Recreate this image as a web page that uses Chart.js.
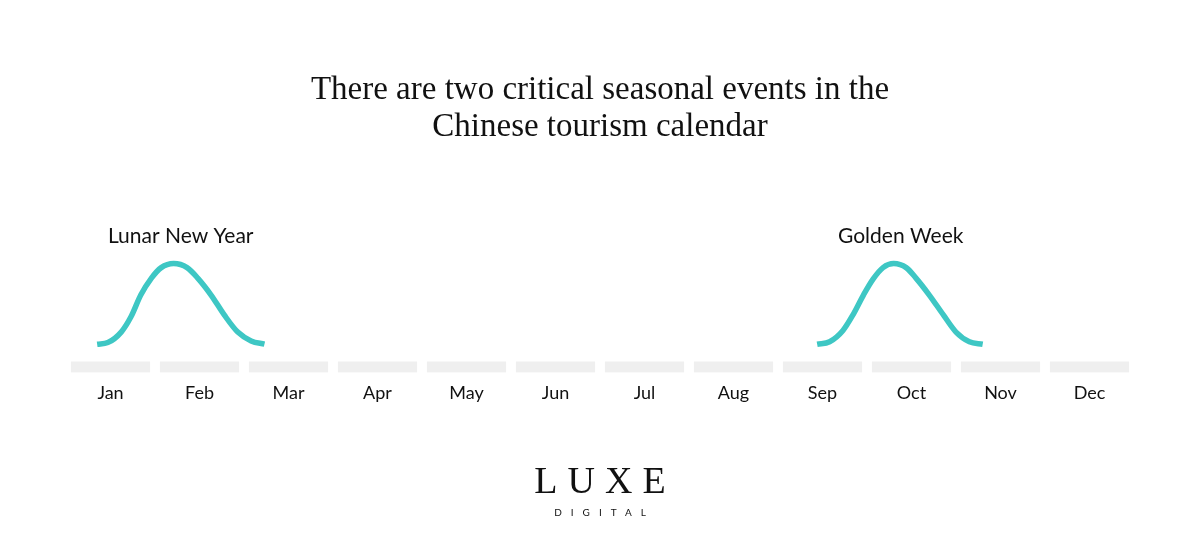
<!DOCTYPE html>
<html>
<head>
<meta charset="utf-8">
<script src="https://cdn.jsdelivr.net/npm/chart.js@4"></script>
<style>
  html, body { margin: 0; padding: 0; background: #fff; }
  #wrap { position: relative; width: 1200px; height: 541px; }
  #logo { position: absolute; left: 0; width: 1200px; top: 459px; text-align: center; color: #111; }
  #logo .big { font-family: "Liberation Serif", serif; font-size: 38px; letter-spacing: 10px; padding-left: 10px; line-height: 42px; }
  #logo .small { font-family: "Lato", sans-serif; font-size: 10px; letter-spacing: 9px; padding-left: 9px; margin-top: 5px; }
</style>
</head>
<body>
<div id="wrap">
  <canvas id="seasonChart" width="1200" height="541"></canvas>
  <div id="logo"><div class="big">LUXE</div><div class="small">DIGITAL</div></div>
</div>
<script>
const months = ["Jan", "Feb", "Mar", "Apr", "May", "Jun", "Jul", "Aug", "Sep", "Oct", "Nov", "Dec"];
const titleLines = ["There are two critical seasonal events in the", "Chinese tourism calendar"];

// grey month tracks (floating bars, same for every month)
const monthTracks = [[-35, -22], [-35, -22], [-35, -22], [-35, -22], [-35, -22], [-35, -22],
                     [-35, -22], [-35, -22], [-35, -22], [-35, -22], [-35, -22], [-35, -22]];

// traffic curves, x in months (0 = Jan), y = relative intensity
const lunarX = [-0.15, -0.03, 0.12, 0.23, 0.34, 0.46, 0.57, 0.71, 0.86, 0.98, 1.13, 1.28, 1.43, 1.58, 1.73];
const lunarY = [0, 2, 15, 34, 61, 82, 95, 100, 95, 82, 61, 36, 15, 4, 0];
const goldenX = [7.94, 8.08, 8.23, 8.34, 8.46, 8.57, 8.68, 8.80, 8.94, 9.05, 9.20, 9.36, 9.50, 9.65, 9.80];
const goldenY = [0, 3, 17, 36, 61, 81, 95, 100, 95, 82, 61, 36, 15, 3, 0];
const eventNames = ["Lunar New Year", "Golden Week"];

const teal = "#3ec7c4";

function toPoints(xs, ys) {
  return xs.map((x, i) => ({ x: x, y: ys[i] }));
}

// write the event name above each curve's peak
const eventLabels = {
  id: "eventLabels",
  afterDatasetsDraw(chart) {
    const ctx = chart.ctx;
    ctx.save();
    ctx.font = "21px Lato";
    ctx.fillStyle = "#111";
    ctx.textAlign = "center";
    ctx.textBaseline = "alphabetic";
    chart.data.datasets.forEach((ds, i) => {
      if (!ds.eventName) return;
      const meta = chart.getDatasetMeta(i);
      let top = meta.data[0];
      meta.data.forEach(p => { if (p.y < top.y) top = p; });
      ctx.fillText(ds.eventName, top.x + 7, top.y - 21);
    });
    ctx.restore();
  }
};

new Chart(document.getElementById("seasonChart"), {
  type: "bar",
  data: {
    labels: months,
    datasets: [
      {
        data: monthTracks,
        backgroundColor: "#efefef",
        grouped: false,
        barThickness: 78.5,
        borderSkipped: false
      },
      {
        type: "line",
        eventName: eventNames[0],
        xAxisID: "x2",
        data: toPoints(lunarX, lunarY),
        borderColor: teal,
        borderWidth: 5.5,
        pointRadius: 0,
        cubicInterpolationMode: "monotone",
        fill: false
      },
      {
        type: "line",
        eventName: eventNames[1],
        xAxisID: "x2",
        data: toPoints(goldenX, goldenY),
        borderColor: teal,
        borderWidth: 5.5,
        pointRadius: 0,
        cubicInterpolationMode: "monotone",
        fill: false
      }
    ]
  },
  options: {
    responsive: false,
    animation: false,
    layout: { padding: { left: 66, right: 66, top: 0, bottom: 135 } },
    plugins: {
      legend: { display: false },
      tooltip: { enabled: false },
      title: {
        display: true,
        text: titleLines,
        color: "#111",
        font: { family: "Liberation Serif", size: 33, weight: "normal", lineHeight: 1.12 },
        padding: { top: 72, bottom: 54 }
      }
    },
    scales: {
      x: {
        grid: { display: false },
        border: { display: false },
        ticks: { color: "#111", font: { family: "Lato", size: 18 }, padding: 2 }
      },
      x2: {
        type: "linear",
        position: "bottom",
        display: false,
        offset: false,
        bounds: "data",
        min: -0.5,
        max: 11.5
      },
      y: { display: false, min: -35, max: 179 }
    }
  },
  plugins: [eventLabels]
});
</script>
</body>
</html>
